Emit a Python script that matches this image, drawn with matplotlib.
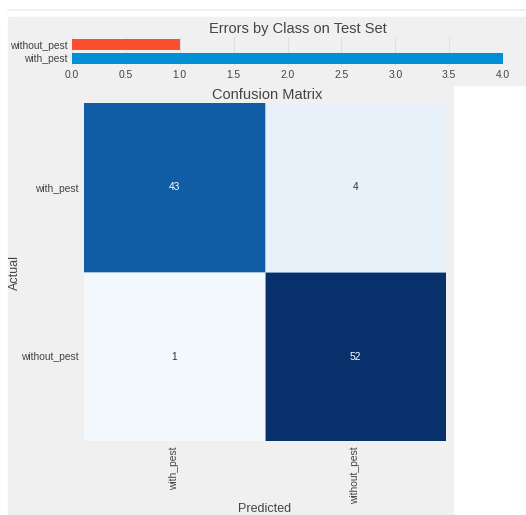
import numpy as np
import matplotlib.pyplot as plt
from matplotlib.patches import Rectangle

plt.rcParams['font.family'] = ['Liberation Sans', 'DejaVu Sans']

# errores por clase en el set de prueba
clases = ['with_pest', 'without_pest']
errores = [4, 1]
colores_barras = ['#008fd5', '#fc4f30']

# matriz de confusion (filas: real, columnas: prediccion)
matriz = np.array([[43, 4],
                   [1, 52]])

W, H = 526, 515
fondo = '#f0f0f0'
texto = '#444444'


def caja(x0, y0, x1, y1):
    # convierte pixeles (origen arriba a la izquierda) a coordenadas de figura
    return [x0 / W, 1 - y1 / H, (x1 - x0) / W, (y1 - y0) / H]


fig = plt.figure(figsize=(W / 100, H / 100), dpi=100, facecolor='white')

# linea fina arriba y fondos grises de cada panel
fig.add_artist(plt.Line2D([8 / W, 1], [1 - 10 / H, 1 - 10 / H],
                          color='#ececec', lw=1.2, transform=fig.transFigure))
fig.add_artist(Rectangle((8 / W, 1 - 85 / H), 1 - 8 / W, 68 / H,
                         transform=fig.transFigure, color=fondo, zorder=0))
fig.add_artist(Rectangle((8 / W, 0), (453 - 8) / W, 1 - 85 / H,
                         transform=fig.transFigure, color=fondo, zorder=0))

## barras de errores
ax1 = fig.add_axes(caja(72, 37, 503, 66))
ax1.set_facecolor(fondo)
ax1.barh(range(len(clases)), errores, height=0.8, color=colores_barras)
ax1.set_xlim(0, 4.0)
ax1.set_ylim(-0.55, 1.55)
ax1.set_xticks(np.arange(0, 4.01, 0.5))
ax1.set_xticklabels(['%.1f' % v for v in np.arange(0, 4.01, 0.5)])
ax1.set_yticks(range(len(clases)))
ax1.set_yticklabels(clases)
ax1.tick_params(labelsize=7.4, colors=texto, length=0, pad=3)
ax1.grid(True, axis='x', color='#e0e0e0', lw=0.8)
ax1.set_axisbelow(True)
for s in ax1.spines.values():
    s.set_visible(False)
ax1.set_title('Errors by Class on Test Set', fontsize=10.5, color=texto,
              pad=3, x=0.525)

## matriz de confusion
ax2 = fig.add_axes(caja(84, 103, 446, 441))
ax2.imshow(matriz, cmap='Blues', vmin=0, vmax=matriz.max(), aspect='auto')
for i in range(2):
    for j in range(2):
        v = matriz[i, j]
        c = 'white' if v > matriz.max() / 2 else '#333333'
        ax2.text(j, i, str(v), ha='center', va='center', fontsize=7.4, color=c)
ax2.axvline(0.5, color='#9ab8d8', lw=0.6)
ax2.axhline(0.5, color='#9ab8d8', lw=0.6)
ax2.set_xticks(range(2))
ax2.set_xticklabels(clases, rotation=90)
ax2.set_yticks(range(2))
ax2.set_yticklabels(clases)
ax2.tick_params(labelsize=7.4, colors=texto, length=0, pad=4)
for s in ax2.spines.values():
    s.set_visible(False)
ax2.set_title('Confusion Matrix', fontsize=10.5, color=texto, pad=3, x=0.505)

# etiquetas de ejes puestas a mano
fig.text(265 / W, 1 - 509 / H, 'Predicted', fontsize=9, color=texto,
         ha='center', va='center')
fig.text(15 / W, 1 - 272 / H, 'Actual', fontsize=9, color=texto,
         ha='center', va='center', rotation=90)

fig.savefig('out.png', dpi=100, facecolor='white')
